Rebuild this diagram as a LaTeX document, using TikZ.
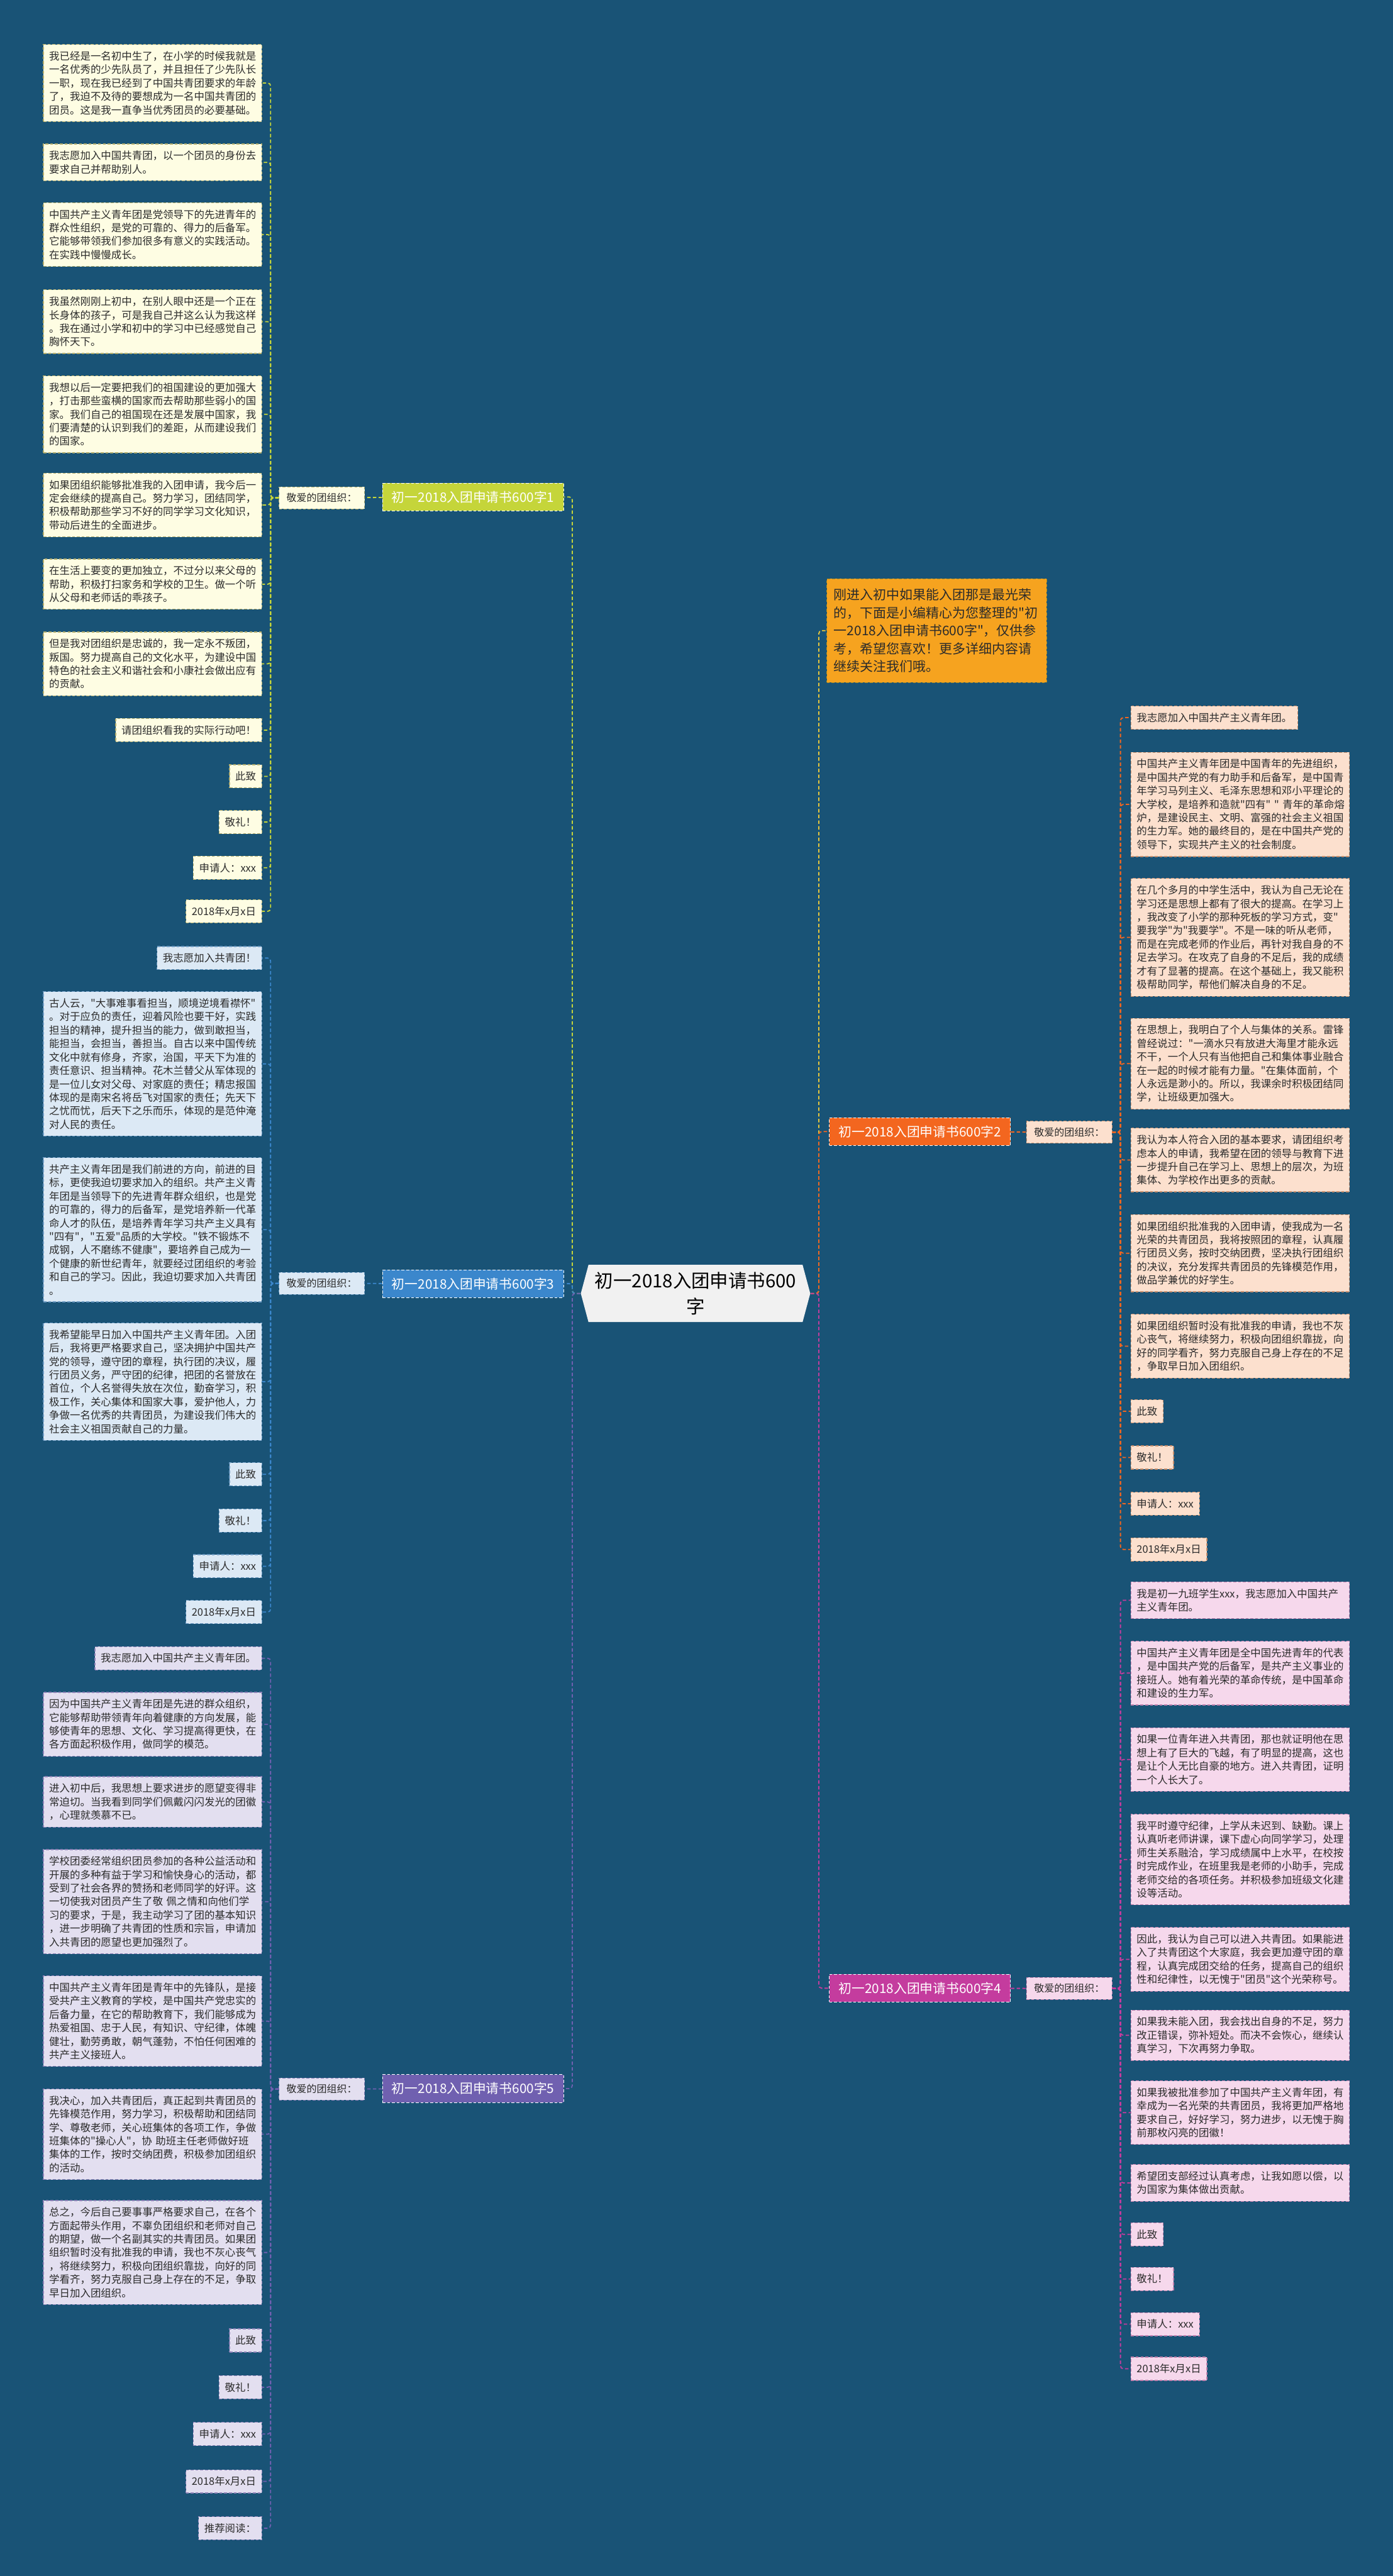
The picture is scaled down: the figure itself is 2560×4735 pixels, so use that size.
\documentclass[tikz,border=0pt]{standalone}
\usepackage{fontspec}
\newfontfamily\cjk{Noto Sans CJK SC}
\usetikzlibrary{shapes.symbols}
\definecolor{bg}{HTML}{195376}
\definecolor{ink}{HTML}{2B2B2B}
\definecolor{limeC}{HTML}{C5D53A}
\definecolor{limeF}{HTML}{FEFDE3}
\definecolor{limeL}{HTML}{B3AE6E}
\definecolor{blueC}{HTML}{3B87CC}
\definecolor{blueF}{HTML}{DCE9F5}
\definecolor{blueL}{HTML}{6F9CC4}
\definecolor{violC}{HTML}{7060B0}
\definecolor{violF}{HTML}{E3DFF0}
\definecolor{violL}{HTML}{8E83B8}
\definecolor{oranC}{HTML}{F3661F}
\definecolor{oranF}{HTML}{FCE0CE}
\definecolor{oranL}{HTML}{C8906E}
\definecolor{magC}{HTML}{C43C9E}
\definecolor{magF}{HTML}{F6D8EC}
\definecolor{magL}{HTML}{C07FAD}
\definecolor{introF}{HTML}{F6A31F}
\definecolor{introC}{HTML}{E9C73B}
\definecolor{rootF}{HTML}{F1F1F1}
\tikzstyle{leaf} = [rectangle, draw, dash pattern=on 1.5pt off 1pt, line width=0.4pt, inner xsep=3.04pt, inner ysep=3.56pt, align=left, text=ink, font=\cjk\fontsize{5.41pt}{7.04pt}\selectfont]
\tikzstyle{wide} = [text width=3.8cm]
\tikzstyle{left leaf} = [leaf, anchor=north east]
\tikzstyle{right leaf} = [leaf, anchor=north west]
\tikzstyle{branch} = [rectangle, draw=white!70, dash pattern=on 1.5pt off 1pt, line width=0.3pt, minimum width=3.33cm, minimum height=0.51cm, text=white, font=\cjk\fontsize{6.83pt}{8pt}\selectfont]
\tikzstyle{greeting} = [rectangle, draw, dash pattern=on 1.5pt off 1pt, line width=0.3pt, minimum width=1.57cm, minimum height=0.36cm, text=ink, font=\cjk\fontsize{5.26pt}{6pt}\selectfont]
\tikzstyle{link} = [dash pattern=on 1.8pt off 1.2pt, line width=0.6pt, rounded corners=1.5pt]

\begin{document}
\begin{tikzpicture}[x=0.01cm, y=-0.01cm]
\useasboundingbox (0,0) rectangle (2560,4735);
\fill[bg] (0,0) rectangle (2560,4735);

% centre
\node (root) [shape=signal, signal to=west and east, signal pointer angle=150, fill=rootF, minimum width=4.13cm, minimum height=1.05cm, align=center, text=black, font=\cjk\fontsize{9.67pt}{13.66pt}\selectfont] at (1278.5,2377.5) {初一2018入团申请书600\\字};

% intro box
\node (intro) [rectangle, draw=introC!70!black, dash pattern=on 1.5pt off 1pt, line width=0.4pt, fill=introF, anchor=north west, text width=3.78cm, inner xsep=3.7pt, inner ysep=5.2pt, align=left, text=ink, font=\cjk\fontsize{6.89pt}{9.39pt}\selectfont] at (1519,1063)
  {刚进入初中如果能入团那是最光荣\\的，下面是小编精心为您整理的"初\\一2018入团申请书600字"，仅供参\\考，希望您喜欢！更多详细内容请\\继续关注我们哦。};

% branches
\node (b1) [branch, fill=limeC] at (869.5,913.5) {初一2018入团申请书600字1};
\node (b3) [branch, fill=blueC] at (869.5,2359.5) {初一2018入团申请书600字3};
\node (b5) [branch, fill=violC] at (869.5,3839) {初一2018入团申请书600字5};
\node (b2) [branch, fill=oranC] at (1691,2080) {初一2018入团申请书600字2};
\node (b4) [branch, fill=magC] at (1691,3654.5) {初一2018入团申请书600字4};

\node (g1) [greeting, fill=limeF, draw=limeL] at (591.5,915) {敬爱的团组织：};
\node (g3) [greeting, fill=blueF, draw=blueL] at (591.5,2359) {敬爱的团组织：};
\node (g5) [greeting, fill=violF, draw=violL] at (591.5,3840) {敬爱的团组织：};
\node (g2) [greeting, fill=oranF, draw=oranL] at (1965.5,2081) {敬爱的团组织：};
\node (g4) [greeting, fill=magF, draw=magL] at (1965.5,3655) {敬爱的团组织：};

% branch 1 leaves
\begin{scope}[every node/.style={fill=limeF, draw=limeL}]
\node (L1a) [left leaf, wide] at (482,81) {我已经是一名初中生了，在小学的时候我就是\\一名优秀的少先队员了，并且担任了少先队长\\一职，现在我已经到了中国共青团要求的年龄\\了，我迫不及待的要想成为一名中国共青团的\\团员。这是我一直争当优秀团员的必要基础。};
\node (L1b) [left leaf, wide] at (482,264) {我志愿加入中国共青团，以一个团员的身份去\\要求自己并帮助别人。};
\node (L1c) [left leaf, wide] at (482,372) {中国共产主义青年团是党领导下的先进青年的\\群众性组织，是党的可靠的、得力的后备军。\\它能够带领我们参加很多有意义的实践活动。\\在实践中慢慢成长。};
\node (L1d) [left leaf, wide] at (482,532) {我虽然刚刚上初中，在别人眼中还是一个正在\\长身体的孩子，可是我自己并这么认为我这样\\。我在通过小学和初中的学习中已经感觉自己\\胸怀天下。};
\node (L1e) [left leaf, wide] at (482,690) {我想以后一定要把我们的祖国建设的更加强大\\，打击那些蛮横的国家而去帮助那些弱小的国\\家。我们自己的祖国现在还是发展中国家，我\\们要清楚的认识到我们的差距，从而建设我们\\的国家。};
\node (L1f) [left leaf, wide] at (482,869) {如果团组织能够批准我的入团申请，我今后一\\定会继续的提高自己。努力学习，团结同学，\\积极帮助那些学习不好的同学学习文化知识，\\带动后进生的全面进步。};
\node (L1g) [left leaf, wide] at (482,1027) {在生活上要变的更加独立，不过分以来父母的\\帮助，积极打扫家务和学校的卫生。做一个听\\从父母和老师话的乖孩子。};
\node (L1h) [left leaf, wide] at (482,1161) {但是我对团组织是忠诚的，我一定永不叛团，\\叛国。努力提高自己的文化水平，为建设中国\\特色的社会主义和谐社会和小康社会做出应有\\的贡献。};
\node (L1i) [left leaf] at (482,1320) {请团组织看我的实际行动吧！};
\node (L1j) [left leaf] at (482,1405) {此致};
\node (L1k) [left leaf] at (482,1489) {敬礼！};
\node (L1l) [left leaf] at (482,1573) {申请人：xxx};
\node (L1m) [left leaf] at (482,1653) {2018年x月x日};
\end{scope}

% branch 3 leaves
\begin{scope}[every node/.style={fill=blueF, draw=blueL}]
\node (L3a) [left leaf] at (482,1739) {我志愿加入共青团！};
\node (L3b) [left leaf, wide] at (482,1822) {古人云，"大事难事看担当，顺境逆境看襟怀"\\。对于应负的责任，迎着风险也要干好，实践\\担当的精神，提升担当的能力，做到敢担当，\\能担当，会担当，善担当。自古以来中国传统\\文化中就有修身，齐家，治国，平天下为准的\\责任意识、担当精神。花木兰替父从军体现的\\是一位儿女对父母、对家庭的责任；精忠报国\\体现的是南宋名将岳飞对国家的责任；先天下\\之忧而忧，后天下之乐而乐，体现的是范仲淹\\对人民的责任。};
\node (L3c) [left leaf, wide] at (482,2127) {共产主义青年团是我们前进的方向，前进的目\\标，更使我迫切要求加入的组织。共产主义青\\年团是当领导下的先进青年群众组织，也是党\\的可靠的，得力的后备军，是党培养新一代革\\命人才的队伍，是培养青年学习共产主义具有\\"四有"，"五爱"品质的大学校。"铁不锻炼不\\成钢，人不磨练不健康"，要培养自己成为一\\个健康的新世纪青年，就要经过团组织的考验\\和自己的学习。因此，我迫切要求加入共青团\\。};
\node (L3d) [left leaf, wide] at (482,2431) {我希望能早日加入中国共产主义青年团。入团\\后，我将更严格要求自己，坚决拥护中国共产\\党的领导，遵守团的章程，执行团的决议，履\\行团员义务，严守团的纪律，把团的名誉放在\\首位，个人名誉得失放在次位，勤奋学习，积\\极工作，关心集体和国家大事，爱护他人，力\\争做一名优秀的共青团员，为建设我们伟大的\\社会主义祖国贡献自己的力量。};
\node (L3e) [left leaf] at (482,2688) {此致};
\node (L3f) [left leaf] at (482,2773) {敬礼！};
\node (L3g) [left leaf] at (482,2857) {申请人：xxx};
\node (L3h) [left leaf] at (482,2941) {2018年x月x日};
\end{scope}

% branch 5 leaves
\begin{scope}[every node/.style={fill=violF, draw=violL}]
\node (L5a) [left leaf] at (482,3026) {我志愿加入中国共产主义青年团。};
\node (L5b) [left leaf, wide] at (482,3110) {因为中国共产主义青年团是先进的群众组织，\\它能够帮助带领青年向着健康的方向发展，能\\够使青年的思想、文化、学习提高得更快，在\\各方面起积极作用，做同学的模范。};
\node (L5c) [left leaf, wide] at (482,3265) {进入初中后，我思想上要求进步的愿望变得非\\常迫切。当我看到同学们佩戴闪闪发光的团徽\\，心理就羡慕不已。};
\node (L5d) [left leaf, wide] at (482,3399) {学校团委经常组织团员参加的各种公益活动和\\开展的多种有益于学习和愉快身心的活动，都\\受到了社会各界的赞扬和老师同学的好评。这\\一切使我对团员产生了敬~佩之情和向他们学\\习的要求，于是，我主动学习了团的基本知识\\，进一步明确了共青团的性质和宗旨，申请加\\入共青团的愿望也更加强烈了。};
\node (L5e) [left leaf, wide] at (482,3631) {中国共产主义青年团是青年中的先锋队，是接\\受共产主义教育的学校，是中国共产党忠实的\\后备力量，在它的帮助教育下，我们能够成为\\热爱祖国、忠于人民，有知识、守纪律，体魄\\健壮，勤劳勇敢，朝气蓬勃，不怕任何困难的\\共产主义接班人。};
\node (L5f) [left leaf, wide] at (482,3839) {我决心，加入共青团后，真正起到共青团员的\\先锋模范作用，努力学习，积极帮助和团结同\\学、尊敬老师，关心班集体的各项工作，争做\\班集体的"操心人"，协~助班主任老师做好班\\集体的工作，按时交纳团费，积极参加团组织\\的活动。};
\node (L5g) [left leaf, wide] at (482,4044) {总之，今后自己要事事严格要求自己，在各个\\方面起带头作用，不辜负团组织和老师对自己\\的期望，做一个名副其实的共青团员。如果团\\组织暂时没有批准我的申请，我也不灰心丧气\\，将继续努力，积极向团组织靠拢，向好的同\\学看齐，努力克服自己身上存在的不足，争取\\早日加入团组织。};
\node (L5h) [left leaf] at (482,4280) {此致};
\node (L5i) [left leaf] at (482,4366) {敬礼！};
\node (L5j) [left leaf] at (482,4452) {申请人：xxx};
\node (L5k) [left leaf] at (482,4539) {2018年x月x日};
\node (L5l) [left leaf] at (482,4625) {推荐阅读：};
\end{scope}

% branch 2 leaves
\begin{scope}[every node/.style={fill=oranF, draw=oranL}]
\node (R2a) [right leaf] at (2078,1297) {我志愿加入中国共产主义青年团。};
\node (R2b) [right leaf, wide] at (2078,1382) {中国共产主义青年团是中国青年的先进组织，\\是中国共产党的有力助手和后备军，是中国青\\年学习马列主义、毛泽东思想和邓小平理论的\\\mbox{大学校，是培养和造就"四有"~"~青年的革命熔}\\炉，是建设民主、文明、富强的社会主义祖国\\的生力军。她的最终目的，是在中国共产党的\\领导下，实现共产主义的社会制度。};
\node (R2c) [right leaf, wide] at (2078,1614) {在几个多月的中学生活中，我认为自己无论在\\学习还是思想上都有了很大的提高。在学习上\\，我改变了小学的那种死板的学习方式，变"\\要我学"为"我要学"。不是一味的听从老师，\\而是在完成老师的作业后，再针对我自身的不\\足去学习。在攻克了自身的不足后，我的成绩\\才有了显著的提高。在这个基础上，我又能积\\极帮助同学，帮他们解决自身的不足。};
\node (R2d) [right leaf, wide] at (2078,1871) {在思想上，我明白了个人与集体的关系。雷锋\\曾经说过："一滴水只有放进大海里才能永远\\不干，一个人只有当他把自己和集体事业融合\\在一起的时候才能有力量。"在集体面前，个\\人永远是渺小的。所以，我课余时积极团结同\\学，让班级更加强大。};
\node (R2e) [right leaf, wide] at (2078,2073) {我认为本人符合入团的基本要求，请团组织考\\虑本人的申请，我希望在团的领导与教育下进\\一步提升自己在学习上、思想上的层次，为班\\集体、为学校作出更多的贡献。};
\node (R2f) [right leaf, wide] at (2078,2232) {如果团组织批准我的入团申请，使我成为一名\\光荣的共青团员，我将按照团的章程，认真履\\行团员义务，按时交纳团费，坚决执行团组织\\的决议，充分发挥共青团员的先锋模范作用，\\做品学兼优的好学生。};
\node (R2g) [right leaf, wide] at (2078,2415) {如果团组织暂时没有批准我的申请，我也不灰\\心丧气，将继续努力，积极向团组织靠拢，向\\好的同学看齐，努力克服自己身上存在的不足\\，争取早日加入团组织。};
\node (R2h) [right leaf] at (2078,2572) {此致};
\node (R2i) [right leaf] at (2078,2657) {敬礼！};
\node (R2j) [right leaf] at (2078,2742) {申请人：xxx};
\node (R2k) [right leaf] at (2078,2826) {2018年x月x日};
\end{scope}

% branch 4 leaves
\begin{scope}[every node/.style={fill=magF, draw=magL}]
\node (R4a) [right leaf, wide] at (2078,2907) {我是初一九班学生xxx，我志愿加入中国共产\\主义青年团。};
\node (R4b) [right leaf, wide] at (2078,3016) {中国共产主义青年团是全中国先进青年的代表\\，是中国共产党的后备军，是共产主义事业的\\接班人。她有着光荣的革命传统，是中国革命\\和建设的生力军。};
\node (R4c) [right leaf, wide] at (2078,3175) {如果一位青年进入共青团，那也就证明他在思\\想上有了巨大的飞越，有了明显的提高，这也\\是让个人无比自豪的地方。进入共青团，证明\\一个人长大了。};
\node (R4d) [right leaf, wide] at (2078,3334) {我平时遵守纪律，上学从未迟到、缺勤。课上\\认真听老师讲课，课下虚心向同学学习，处理\\师生关系融洽，学习成绩属中上水平，在校按\\时完成作业，在班里我是老师的小助手，完成\\老师交给的各项任务。并积极参加班级文化建\\设等活动。};
\node (R4e) [right leaf, wide] at (2078,3542) {因此，我认为自己可以进入共青团。如果能进\\入了共青团这个大家庭，我会更加遵守团的章\\程，认真完成团交给的任务，提高自己的组织\\性和纪律性，以无愧于"团员"这个光荣称号。};
\node (R4f) [right leaf, wide] at (2078,3694) {如果我未能入团，我会找出自身的不足，努力\\改正错误，弥补短处。而决不会恢心，继续认\\真学习，下次再努力争取。};
\node (R4g) [right leaf, wide] at (2078,3824) {如果我被批准参加了中国共产主义青年团，有\\幸成为一名光荣的共青团员，我将更加严格地\\要求自己，好好学习，努力进步，以无愧于胸\\前那枚闪亮的团徽！};
\node (R4h) [right leaf, wide] at (2078,3978) {希望团支部经过认真考虑，让我如愿以偿，以\\为国家为集体做出贡献。};
\node (R4i) [right leaf] at (2078,4085) {此致};
\node (R4j) [right leaf] at (2078,4167) {敬礼！};
\node (R4k) [right leaf] at (2078,4250) {申请人：xxx};
\node (R4l) [right leaf] at (2078,4332) {2018年x月x日};
\end{scope}

% connectors
\draw[link, introC] (root.east) -- ++(15,0) |- (intro.west);
\draw[link, oranC] (root.east) -- ++(15,0) |- (b2.west);
\draw[link, magC] (root.east) -- ++(15,0) |- (b4.west);
\draw[link, limeC] (root.west) -- ++(-15,0) |- (b1.east);
\draw[link, blueC] (root.west) -- ++(-15,0) |- (b3.east);
\draw[link, violC] (root.west) -- ++(-15,0) |- (b5.east);

\draw[link, limeC] (b1) -- (g1);
\draw[link, blueC] (b3) -- (g3);
\draw[link, violC] (b5) -- (g5);
\draw[link, oranC] (b2) -- (g2);
\draw[link, magC] (b4) -- (g4);

\foreach \n in {L1a,L1b,L1c,L1d,L1e,L1f,L1g,L1h,L1i,L1j,L1k,L1l,L1m}
  \draw[link, limeC] (g1.west) -- ++(-15,0) |- (\n.east);
\foreach \n in {L3a,L3b,L3c,L3d,L3e,L3f,L3g,L3h}
  \draw[link, blueC] (g3.west) -- ++(-15,0) |- (\n.east);
\foreach \n in {L5a,L5b,L5c,L5d,L5e,L5f,L5g,L5h,L5i,L5j,L5k,L5l}
  \draw[link, violC] (g5.west) -- ++(-15,0) |- (\n.east);
\foreach \n in {R2a,R2b,R2c,R2d,R2e,R2f,R2g,R2h,R2i,R2j,R2k}
  \draw[link, oranC] (g2.east) -- ++(15,0) |- (\n.west);
\foreach \n in {R4a,R4b,R4c,R4d,R4e,R4f,R4g,R4h,R4i,R4j,R4k,R4l}
  \draw[link, magC] (g4.east) -- ++(15,0) |- (\n.west);
\end{tikzpicture}
\end{document}
